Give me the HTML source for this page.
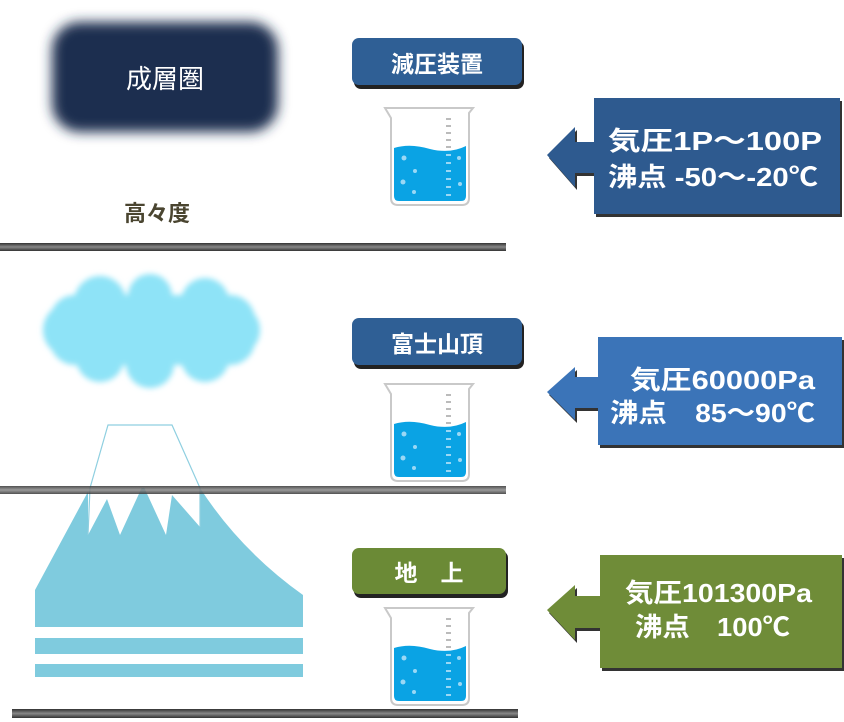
<!DOCTYPE html>
<html><head><meta charset="utf-8"><style>
html,body{margin:0;padding:0;background:#fff;width:844px;height:722px;overflow:hidden}
text{font-family:"Liberation Sans","Noto Sans CJK JP",sans-serif}
</style></head><body>
<svg width="844" height="722" viewBox="0 0 844 722" xmlns="http://www.w3.org/2000/svg">
<defs>
<filter id="bl" x="-20%" y="-30%" width="140%" height="160%"><feGaussianBlur stdDeviation="6"/></filter>
<filter id="bl2"><feGaussianBlur stdDeviation="3"/></filter>
<linearGradient id="ln" x1="0" y1="0" x2="0" y2="1"><stop offset="0" stop-color="#333"/><stop offset="0.5" stop-color="#888"/><stop offset="1" stop-color="#333"/></linearGradient>
<g id="beaker">
<path d="M0,0 L88,0 L84,5 L84,90 Q84,97 77,97 L13,97 Q6,97 6,90 L6,10 Z" fill="#fff" stroke="#c9c9c9" stroke-width="2"/>
<path d="M9,40 Q25,35 45,41 Q65,46 81,38 L81,88 Q81,93 76,93 L14,93 Q9,93 9,88 Z" fill="#0aa3e4"/>
<g fill="#bbb"><rect x="61" y="10" width="5" height="2"/><rect x="61" y="17" width="5" height="2"/><rect x="61" y="24" width="5" height="2"/><rect x="61" y="31" width="5" height="2"/><rect x="61" y="38" width="5" height="2"/></g>
<g fill="#9ad8f5"><rect x="61" y="46" width="5" height="2"/><rect x="61" y="54" width="5" height="2"/><rect x="61" y="62" width="5" height="2"/><rect x="61" y="70" width="5" height="2"/><rect x="61" y="78" width="5" height="2"/><rect x="61" y="86" width="5" height="2"/>
<circle cx="19" cy="50" r="2.5"/><circle cx="30" cy="63" r="2"/><circle cx="18" cy="74" r="2.5"/><circle cx="29" cy="84" r="2"/><circle cx="74" cy="50" r="2"/><circle cx="75" cy="76" r="2"/></g>
</g>
</defs>

<!-- stratosphere box -->
<rect x="52" y="22" width="226" height="110" rx="28" fill="#1a2f50" filter="url(#bl)"/>
<text x="165" y="88" font-size="26" fill="#fff" text-anchor="middle">成層圏</text>
<text x="157" y="221" font-size="22" font-weight="bold" fill="#4a4530" text-anchor="middle">高々度</text>

<!-- cloud -->
<g fill="#8ee3f7" filter="url(#bl2)">
<rect x="50" y="295" width="205" height="70" rx="25"/>
<circle cx="100" cy="302" r="26"/><circle cx="150" cy="296" r="22"/><circle cx="205" cy="302" r="24"/>
<circle cx="70" cy="330" r="27"/><circle cx="235" cy="330" r="25"/>
<circle cx="100" cy="358" r="24"/><circle cx="150" cy="364" r="24"/><circle cx="205" cy="358" r="24"/>
</g>

<!-- mountain -->
<path d="M35,590 L90,488 L200,488 Q240,550 303,595 L303,627 L35,627 Z" fill="#7fcbde"/>
<path d="M88,488 L88,535 L107,499 L120,535 L143,485 L166,535 L172,495 L200,527 L200,488 Z" fill="#fff"/>
<path d="M88,535 L90,488 L108,425 L172,425 L200,488 L200,527" fill="none" stroke="#8fcfe0" stroke-width="1.2"/>
<rect x="35" y="638" width="268" height="16" fill="#7fcbde"/>
<rect x="35" y="664" width="268" height="13" fill="#7fcbde"/>

<!-- lines -->
<rect x="0" y="243" width="506" height="8" fill="url(#ln)"/>
<rect x="0" y="486" width="506" height="8" fill="url(#ln)" opacity="0.85"/>
<rect x="12" y="709" width="506" height="9" fill="url(#ln)"/>

<!-- buttons -->
<rect x="354" y="41" width="170" height="48" rx="7" fill="#222"/>
<rect x="352" y="38" width="170" height="47" rx="7" fill="#2f5f95"/>
<text x="437" y="72" font-size="23" font-weight="bold" fill="#fff" text-anchor="middle">減圧装置</text>
<rect x="354" y="321" width="170" height="48" rx="7" fill="#222"/>
<rect x="352" y="318" width="170" height="47" rx="7" fill="#2f5f95"/>
<text x="437" y="352" font-size="23" font-weight="bold" fill="#fff" text-anchor="middle">富士山頂</text>
<rect x="354" y="551" width="154" height="47" rx="7" fill="#222"/>
<rect x="352" y="548" width="154" height="46" rx="7" fill="#6b8a36"/>
<text x="429" y="581" font-size="23" font-weight="bold" fill="#fff" text-anchor="middle">地　上</text>

<!-- beakers -->
<use href="#beaker" x="385" y="108"/>
<use href="#beaker" x="385" y="384"/>
<use href="#beaker" x="385" y="608"/>

<!-- arrow boxes -->
<g transform="translate(2,3)" fill="#333">
<path d="M547,155 L575,127 L575,142 L594,142 L594,98 L840,98 L840,214 L594,214 L594,173 L575,173 L575,187 Z"/>
<path d="M547,392 L575,367 L575,377 L598,377 L598,337 L842,337 L842,445 L598,445 L598,408 L575,408 L575,420 Z"/>
<path d="M547,610 L575,585 L575,596 L600,596 L600,555 L842,555 L842,668 L600,668 L600,628 L575,628 L575,640 Z"/>
</g>
<path d="M547,155 L575,127 L575,142 L594,142 L594,98 L840,98 L840,214 L594,214 L594,173 L575,173 L575,187 Z" fill="#2e5a8f"/>
<path d="M547,392 L575,367 L575,377 L598,377 L598,337 L842,337 L842,445 L598,445 L598,408 L575,408 L575,420 Z" fill="#3b74b8"/>
<path d="M547,610 L575,585 L575,596 L600,596 L600,555 L842,555 L842,668 L600,668 L600,628 L575,628 L575,640 Z" fill="#6f8c38"/>
<g fill="#fff" font-size="26" font-weight="bold">
<text x="608" y="150" textLength="214" lengthAdjust="spacingAndGlyphs">気圧1P～100P</text>
<text x="608" y="186" textLength="210" lengthAdjust="spacingAndGlyphs">沸点 -50～-20℃</text>
<text x="630" y="389" textLength="185" lengthAdjust="spacingAndGlyphs">気圧60000Pa</text>
<text x="610" y="422" textLength="205" lengthAdjust="spacingAndGlyphs">沸点　85～90℃</text>
<text x="625" y="602" textLength="187" lengthAdjust="spacingAndGlyphs">気圧101300Pa</text>
<text x="635" y="636" textLength="155" lengthAdjust="spacingAndGlyphs">沸点　100℃</text>
</g>
</svg>
</body></html>
